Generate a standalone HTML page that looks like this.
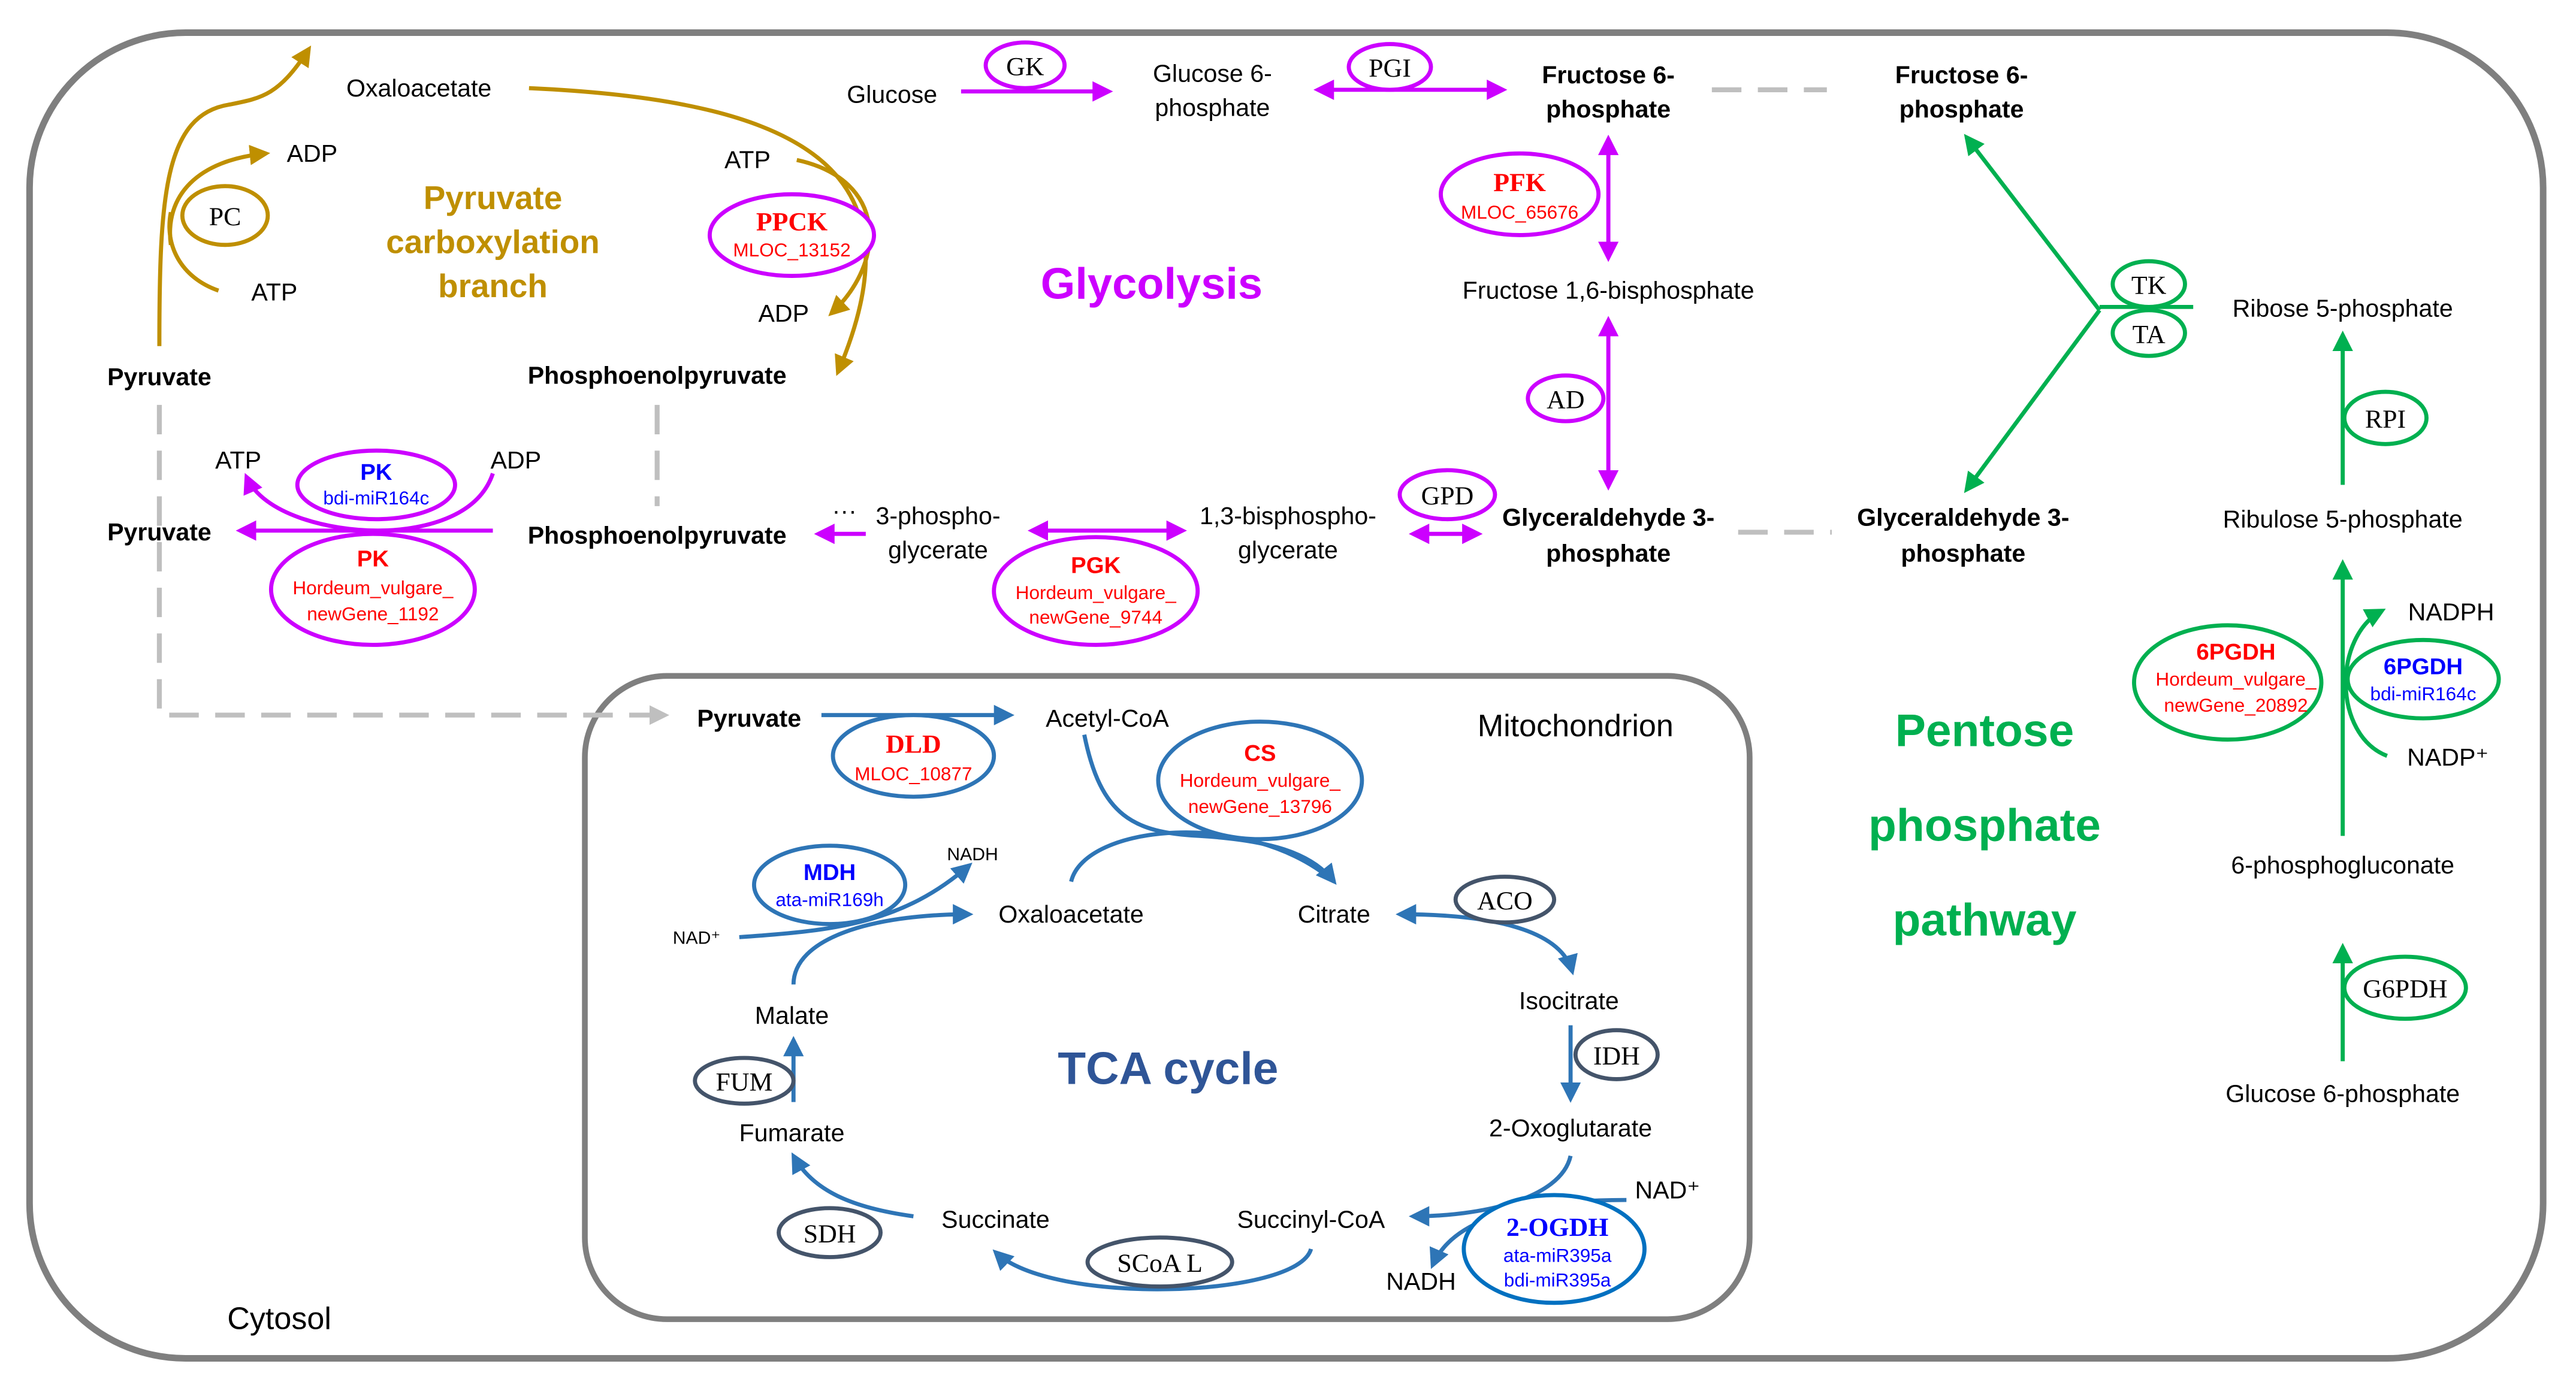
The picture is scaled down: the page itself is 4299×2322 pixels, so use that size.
<!DOCTYPE html>
<html><head><meta charset="utf-8"><style>
html,body{margin:0;padding:0;background:#fff}
svg{display:block}
text{font-family:"Liberation Sans",sans-serif;font-size:15px;text-anchor:middle;fill:#000}
.b{font-weight:bold}
.s{font-family:"Liberation Serif",serif;font-size:16px}
.r{fill:#f00}.u{fill:#00f}
.sm{font-size:11.5px}
.gold{fill:#bf8f00;font-weight:bold;font-size:20px}
.grn{fill:#00b050;font-weight:bold;font-size:28px}
</style></head><body>
<svg width="4299" height="2322" viewBox="0 0 1568 852" preserveAspectRatio="none" xmlns="http://www.w3.org/2000/svg">
<defs>
<marker id="ag" viewBox="0 0 10 10" refX="8" refY="5" markerWidth="5" markerHeight="5" orient="auto-start-reverse"><path d="M0,0L10,5L0,10z" fill="#bf8f00"/></marker>
<marker id="am" viewBox="0 0 10 10" refX="8" refY="5" markerWidth="5" markerHeight="5" orient="auto-start-reverse"><path d="M0,0L10,5L0,10z" fill="#cc00ff"/></marker>
<marker id="an" viewBox="0 0 10 10" refX="8" refY="5" markerWidth="5" markerHeight="5" orient="auto-start-reverse"><path d="M0,0L10,5L0,10z" fill="#00b050"/></marker>
<marker id="ab" viewBox="0 0 10 10" refX="8" refY="5" markerWidth="5" markerHeight="5" orient="auto-start-reverse"><path d="M0,0L10,5L0,10z" fill="#2e75b6"/></marker>
<marker id="ay" viewBox="0 0 10 10" refX="8" refY="5" markerWidth="4" markerHeight="4" orient="auto"><path d="M0,0L10,5L0,10z" fill="#bfbfbf"/></marker>
</defs>
<rect x="18" y="20" width="1530" height="812" rx="95" fill="none" stroke="#7f7f7f" stroke-width="4"/>
<rect x="356" y="414" width="709" height="394" rx="50" fill="none" stroke="#7f7f7f" stroke-width="3.5"/>

<g stroke="#bfbfbf" stroke-width="3" fill="none" stroke-dasharray="18,10">
<path d="M97,248V438H405" marker-end="url(#ay)"/>
<path d="M400,248V310"/>
<path d="M1042,55H1112"/>
<path d="M1058,326H1115"/>
</g>

<g stroke="#bf8f00" stroke-width="2.5" fill="none">
<path d="M97,212C97,120 100,70 140,64C160,60 170,58 188,30" marker-end="url(#ag)"/>
<path d="M104,150C100,120 120,98 162,94" marker-end="url(#ag)"/>
<path d="M133,178C110,170 100,150 104,130"/>
<path d="M322,54C500,62 560,110 510,228" marker-end="url(#ag)"/>
<path d="M485,98C540,110 540,160 506,192" marker-end="url(#ag)"/>
</g>
<ellipse cx="137" cy="132" rx="26" ry="18" fill="#fff" stroke="#bf8f00" stroke-width="2.5"/>
<text x="137" y="138" class="s">PC</text>
<text x="190" y="99">ADP</text><text x="167" y="184">ATP</text>
<text x="255" y="59">Oxaloacetate</text>
<text x="455" y="103">ATP</text><text x="477" y="197">ADP</text>
<text x="300" y="128" class="gold">Pyruvate</text><text x="300" y="155" class="gold">carboxylation</text><text x="300" y="182" class="gold">branch</text>
<ellipse cx="482" cy="144" rx="50" ry="25" fill="#fff" stroke="#cc00ff" stroke-width="2.5"/>
<text x="482" y="141" class="s b r">PPCK</text><text x="482" y="157" class="sm r">MLOC_13152</text>
<text x="97" y="236" class="b">Pyruvate</text><text x="400" y="235" class="b">Phosphoenolpyruvate</text>

<text x="701" y="183" class="b" style="fill:#cc00ff;font-size:27px">Glycolysis</text>
<g stroke="#cc00ff" stroke-width="2.5" fill="none">
<path d="M585,56H675" marker-end="url(#am)"/>
<path d="M802,55H915" marker-start="url(#am)" marker-end="url(#am)"/>
<path d="M979,85V158" marker-start="url(#am)" marker-end="url(#am)"/>
<path d="M979,196V298" marker-start="url(#am)" marker-end="url(#am)"/>
<path d="M860,327H900" marker-start="url(#am)" marker-end="url(#am)"/>
<path d="M628,325H720" marker-start="url(#am)" marker-end="url(#am)"/>
<path d="M527,327H498" marker-end="url(#am)"/>
<path d="M300,325H146" marker-end="url(#am)"/>
<path d="M300,290C290,320 250,325 230,325C200,325 160,315 150,292" marker-end="url(#am)"/>
</g>
<ellipse cx="624" cy="40" rx="24" ry="14" fill="#fff" stroke="#cc00ff" stroke-width="2.5"/><text x="624" y="46" class="s">GK</text>
<ellipse cx="846" cy="41" rx="25" ry="14" fill="#fff" stroke="#cc00ff" stroke-width="2.5"/><text x="846" y="47" class="s">PGI</text>
<ellipse cx="925" cy="119" rx="48" ry="25" fill="#fff" stroke="#cc00ff" stroke-width="2.5"/><text x="925" y="117" class="s b r">PFK</text><text x="925" y="134" class="sm r">MLOC_65676</text>
<ellipse cx="953" cy="244" rx="23" ry="14" fill="#fff" stroke="#cc00ff" stroke-width="2.5"/><text x="953" y="250" class="s">AD</text>
<ellipse cx="881" cy="303" rx="29" ry="15" fill="#fff" stroke="#cc00ff" stroke-width="2.5"/><text x="881" y="309" class="s">GPD</text>
<ellipse cx="667" cy="362" rx="62" ry="33" fill="#fff" stroke="#cc00ff" stroke-width="2.5"/><text x="667" y="351" class="b r" style="font-size:14px">PGK</text><text x="667" y="367" class="sm r">Hordeum_vulgare_</text><text x="667" y="382" class="sm r">newGene_9744</text>
<ellipse cx="229" cy="297" rx="48" ry="21" fill="#fff" stroke="#cc00ff" stroke-width="2.5"/><text x="229" y="294" class="b u" style="font-size:14px">PK</text><text x="229" y="309" class="sm u">bdi-miR164c</text>
<ellipse cx="227" cy="361" rx="62" ry="34" fill="#fff" stroke="#cc00ff" stroke-width="2.5"/><text x="227" y="347" class="b r" style="font-size:14px">PK</text><text x="227" y="364" class="sm r">Hordeum_vulgare_</text><text x="227" y="380" class="sm r">newGene_1192</text>
<text x="145" y="287">ATP</text><text x="314" y="287">ADP</text>
<text x="97" y="331" class="b">Pyruvate</text><text x="400" y="333" class="b">Phosphoenolpyruvate</text>
<text x="514" y="318">···</text>
<text x="571" y="321">3-phospho-</text><text x="571" y="342">glycerate</text>
<text x="784" y="321">1,3-bisphospho-</text><text x="784" y="342">glycerate</text>
<text x="979" y="322" class="b">Glyceraldehyde 3-</text><text x="979" y="344" class="b">phosphate</text>
<text x="1195" y="322" class="b">Glyceraldehyde 3-</text><text x="1195" y="344" class="b">phosphate</text>
<text x="543" y="63">Glucose</text>
<text x="738" y="50">Glucose 6-</text><text x="738" y="71">phosphate</text>
<text x="979" y="51" class="b">Fructose 6-</text><text x="979" y="72" class="b">phosphate</text>
<text x="1194" y="51" class="b">Fructose 6-</text><text x="1194" y="72" class="b">phosphate</text>
<text x="979" y="183">Fructose 1,6-bisphosphate</text>

<g stroke="#00b050" stroke-width="2.5" fill="none">
<path d="M1278,190L1197,84" marker-end="url(#an)"/>
<path d="M1278,190L1197,300" marker-end="url(#an)"/>
<path d="M1335,188H1278"/>
<path d="M1426,297V205" marker-end="url(#an)"/>
<path d="M1426,512V345" marker-end="url(#an)"/>
<path d="M1426,650V580" marker-end="url(#an)"/>
<path d="M1453,463C1420,450 1420,390 1450,374" marker-end="url(#an)"/>
</g>
<ellipse cx="1308" cy="174" rx="22" ry="14" fill="#fff" stroke="#00b050" stroke-width="2.5"/><text x="1308" y="180" class="s">TK</text>
<ellipse cx="1308" cy="204" rx="22" ry="14" fill="#fff" stroke="#00b050" stroke-width="2.5"/><text x="1308" y="210" class="s">TA</text>
<ellipse cx="1452" cy="256" rx="25" ry="16" fill="#fff" stroke="#00b050" stroke-width="2.5"/><text x="1452" y="262" class="s">RPI</text>
<ellipse cx="1464" cy="605" rx="37" ry="19" fill="#fff" stroke="#00b050" stroke-width="2.5"/><text x="1464" y="611" class="s">G6PDH</text>
<ellipse cx="1356" cy="418" rx="57" ry="35" fill="#fff" stroke="#00b050" stroke-width="2.5"/><text x="1361" y="404" class="b r" style="font-size:14px">6PGDH</text><text x="1361" y="420" class="sm r">Hordeum_vulgare_</text><text x="1361" y="436" class="sm r">newGene_20892</text>
<ellipse cx="1475" cy="416" rx="46" ry="24" fill="#fff" stroke="#00b050" stroke-width="2.5"/><text x="1475" y="413" class="b u" style="font-size:14px">6PGDH</text><text x="1475" y="429" class="sm u">bdi-miR164c</text>
<text x="1492" y="380">NADPH</text><text x="1490" y="469">NADP⁺</text>
<text x="1426" y="194">Ribose 5-phosphate</text>
<text x="1426" y="323">Ribulose 5-phosphate</text>
<text x="1426" y="535">6-phosphogluconate</text>
<text x="1426" y="675">Glucose 6-phosphate</text>
<text x="1208" y="457" class="grn">Pentose</text><text x="1208" y="515" class="grn">phosphate</text><text x="1208" y="573" class="grn">pathway</text>

<text x="959" y="451" style="font-size:19px">Mitochondrion</text>
<text x="170" y="814" style="font-size:19px">Cytosol</text>
<text x="711" y="664" class="b" style="fill:#2f5597;font-size:28px">TCA cycle</text>
<g stroke="#2e75b6" stroke-width="2.5" fill="none">
<path d="M500,438H615" marker-end="url(#ab)"/>
<path d="M660,450C670,500 690,510 730,512C780,515 800,525 812,540" marker-end="url(#ab)"/>
<path d="M652,540C660,505 760,495 812,540"/>
<path d="M957,595C950,570 910,560 852,560" marker-start="url(#ab)" marker-end="url(#ab)"/>
<path d="M956,628V673" marker-end="url(#ab)"/>
<path d="M956,708C950,735 900,745 860,745" marker-end="url(#ab)"/>
<path d="M990,735C930,735 885,745 872,775" marker-end="url(#ab)"/>
<path d="M798,765C790,795 640,800 606,767" marker-end="url(#ab)"/>
<path d="M556,745C520,740 495,730 483,708" marker-end="url(#ab)"/>
<path d="M483,675V637" marker-end="url(#ab)"/>
<path d="M483,603C483,575 530,560 590,560" marker-end="url(#ab)"/>
<path d="M450,574C510,570 550,565 590,530" marker-end="url(#ab)"/>
</g>
<ellipse cx="556" cy="463" rx="49" ry="25" fill="#fff" stroke="#2e75b6" stroke-width="2.5"/><text x="556" y="461" class="s b r">DLD</text><text x="556" y="478" class="sm r">MLOC_10877</text>
<ellipse cx="767" cy="478" rx="62" ry="36" fill="#fff" stroke="#2e75b6" stroke-width="2.5"/><text x="767" y="466" class="b r" style="font-size:14px">CS</text><text x="767" y="482" class="sm r">Hordeum_vulgare_</text><text x="767" y="498" class="sm r">newGene_13796</text>
<ellipse cx="505" cy="542" rx="46" ry="24" fill="#fff" stroke="#2e75b6" stroke-width="2.5"/><text x="505" y="539" class="b u" style="font-size:14px">MDH</text><text x="505" y="555" class="sm u">ata-miR169h</text>
<ellipse cx="916" cy="551" rx="30" ry="14" fill="#fff" stroke="#44546a" stroke-width="2.5"/><text x="916" y="557" class="s">ACO</text>
<ellipse cx="984" cy="646" rx="25" ry="15" fill="#fff" stroke="#44546a" stroke-width="2.5"/><text x="984" y="652" class="s">IDH</text>
<ellipse cx="453" cy="662" rx="30" ry="14" fill="#fff" stroke="#44546a" stroke-width="2.5"/><text x="453" y="668" class="s">FUM</text>
<ellipse cx="505" cy="755" rx="31" ry="15" fill="#fff" stroke="#44546a" stroke-width="2.5"/><text x="505" y="761" class="s">SDH</text>
<ellipse cx="706" cy="773" rx="44" ry="15" fill="#fff" stroke="#44546a" stroke-width="2.5"/><text x="706" y="779" class="s">SCoA L</text>
<ellipse cx="946" cy="765" rx="55" ry="33" fill="#fff" stroke="#0070c0" stroke-width="2.5"/><text x="948" y="757" class="s b u">2-OGDH</text><text x="948" y="773" class="sm u">ata-miR395a</text><text x="948" y="788" class="sm u">bdi-miR395a</text>
<text x="456" y="445" class="b">Pyruvate</text>
<text x="674" y="445">Acetyl-CoA</text>
<text x="652" y="565">Oxaloacetate</text><text x="812" y="565">Citrate</text>
<text x="955" y="618">Isocitrate</text><text x="956" y="696">2-Oxoglutarate</text>
<text x="798" y="752">Succinyl-CoA</text><text x="606" y="752">Succinate</text>
<text x="482" y="699">Fumarate</text><text x="482" y="627">Malate</text>
<text x="1015" y="734">NAD⁺</text><text x="865" y="790">NADH</text>
<text x="424" y="578" style="font-size:11px">NAD⁺</text><text x="592" y="527" style="font-size:11px">NADH</text>
</svg>
</body></html>
